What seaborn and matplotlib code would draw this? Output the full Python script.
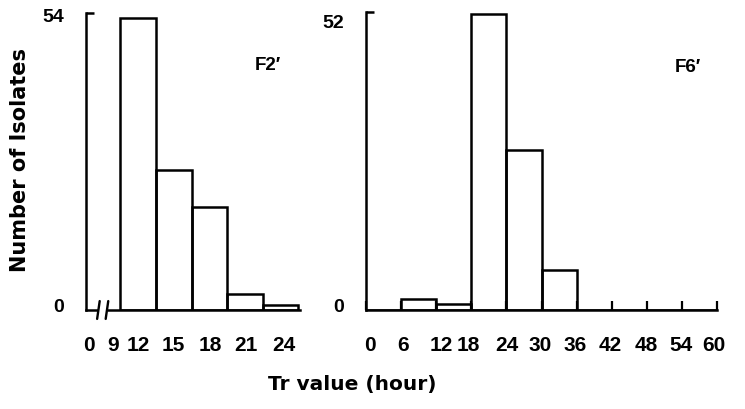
import numpy as np
import pandas as pd
import matplotlib
matplotlib.use("Agg")
import matplotlib.pyplot as plt
from matplotlib.transforms import ScaledTranslation
import seaborn as sns

# ---------------- data ----------------
f2_edges = [9, 12, 15, 18, 21, 24]
f2_counts = [54, 26, 19, 3, 1]
f2_tick_labels = ["0", "9", "12", "15", "18", "21", "24"]
f2_ymax_label = 54

f6_edges = [0, 6, 12, 18, 24, 30, 36, 42, 48, 54, 60]
f6_counts = [0, 2, 1, 52, 28, 7, 0, 0, 0, 0]
f6_tick_labels = ["0", "6", "12", "18", "24", "30", "36", "42", "48", "54", "60"]
f6_ymax_label = 52

panel_names = ["F2\u2032", "F6\u2032"]
y_title = "Number of Isolates"
x_title = "Tr value (hour)"

# ---------------- style ----------------
sns.set_theme(style="ticks")
plt.rcParams["font.family"] = ["Liberation Sans", "DejaVu Sans"]
plt.rcParams["font.weight"] = "bold"
INK = "black"
LW = 1.8

fig = plt.figure(figsize=(7.45, 4.10), dpi=100)
W, H = 745, 410


def ax_rect(x0, x1, ytop, ybot):
    return [x0 / W, 1 - ybot / H, (x1 - x0) / W, (ybot - ytop) / H]


ax1 = fig.add_axes(ax_rect(86, 300, 14, 311))
ax2 = fig.add_axes(ax_rect(366, 717, 13, 311))

break_x = 6.1  # broken-axis origin of the left panel (stands for 0 h)


def draw_hist(ax, edges, counts):
    e = np.asarray(edges, dtype=float)
    mids = (e[:-1] + e[1:]) / 2
    df = pd.DataFrame({"hour": mids, "n": counts})
    sns.histplot(data=df, x="hour", weights="n", bins=list(edges), fill=False,
                 color=INK, linewidth=1.8, ax=ax, legend=False)


draw_hist(ax1, f2_edges, f2_counts)
draw_hist(ax2, f6_edges, f6_counts)

ax1.set_xlim(break_x, 24.15)
ax1.set_ylim(0, 55.0)
ax2.set_xlim(0, 60)
ax2.set_ylim(0, 52.3)

for ax in (ax1, ax2):
    ax.set_xlabel("")
    ax.set_ylabel("")
    for s in ("top", "right"):
        ax.spines[s].set_visible(False)
    for s in ("left", "bottom"):
        ax.spines[s].set_linewidth(LW)
        ax.spines[s].set_color(INK)
    ax.set_facecolor("white")

# x ticks
ax1.set_xticks([break_x] + f2_edges)
ax1.set_xticklabels(f2_tick_labels)
ax2.set_xticks(f6_edges)
ax2.set_xticklabels(f6_tick_labels)
ax1.tick_params(axis="x", length=0, pad=18, labelsize=15, colors=INK)
ax2.tick_params(axis="x", direction="in", length=6.5, width=1.6, pad=18,
                labelsize=15, colors=INK)

# y ticks
ax1.set_yticks([0, f2_ymax_label])
ax1.set_yticklabels(["0", str(f2_ymax_label)])
ax2.set_yticks([0, f6_ymax_label])
ax2.set_yticklabels(["0", str(f6_ymax_label)])
for ax in (ax1, ax2):
    ax.tick_params(axis="y", length=0, pad=16, labelsize=14, colors=INK)
    ax.set_yticks([ax.get_ylim()[1]], minor=True)
    ax.tick_params(axis="y", which="minor", direction="in", length=6,
                   width=LW, colors=INK)

# hand-set offsets of the typed tick labels (pixels)
f2_label_dx = [3, -7, -18, -18, -17, -17, -14]
f6_label_dx = [4, 2, 5, -3, 0, -1, -1, -1, -1, -1, -3]
for ax, dxs in ((ax1, f2_label_dx), (ax2, f6_label_dx)):
    for tick, dx in zip(ax.xaxis.get_major_ticks(), dxs):
        lab = tick.label1
        lab.set_transform(lab.get_transform() +
                          ScaledTranslation(dx / 100, 0, fig.dpi_scale_trans))
y_dys = {ax1: [5, 4], ax2: [5, -7]}
for ax, dys in y_dys.items():
    for tick, dy in zip(ax.yaxis.get_major_ticks(), dys):
        lab = tick.label1
        lab.set_transform(lab.get_transform() +
                          ScaledTranslation(0, dy / 100, fig.dpi_scale_trans))

# axis break marks on the left panel
ax1.plot([0.055, 0.102], [0.0, 0.0], transform=ax1.transAxes, color="white",
         lw=3, clip_on=False, zorder=5, solid_capstyle="butt")
for xb in (0.058, 0.098):
    ax1.plot([xb - 0.006, xb + 0.006], [-0.03, 0.03], transform=ax1.transAxes,
             color=INK, lw=1.7, clip_on=False, zorder=6)

# panel names
ax1.text(0.85, 0.828, panel_names[0], transform=ax1.transAxes, ha="center",
         va="center", fontsize=13.5, color=INK)
ax2.text(0.917, 0.818, panel_names[1], transform=ax2.transAxes, ha="center",
         va="center", fontsize=13.5, color=INK)

# axis titles
fig.text(20 / W, 1 - 160 / H, y_title, rotation=90, ha="center", va="center",
         fontsize=15, color=INK, family=["DejaVu Sans"])
fig.text(352 / W, 1 - 385 / H, x_title, ha="center", va="center",
         fontsize=14.5, color=INK, family=["DejaVu Sans"])

fig.savefig("out.png", dpi=100, facecolor="white")
